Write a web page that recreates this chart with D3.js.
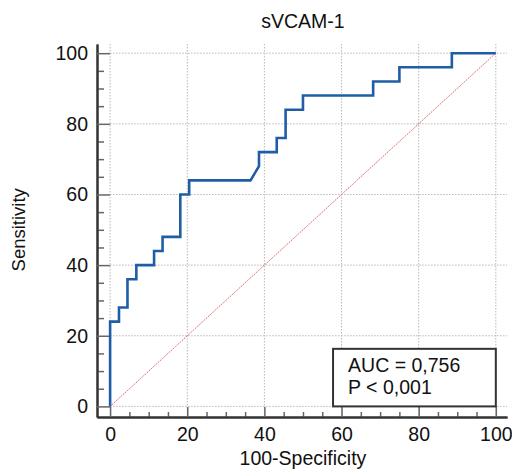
<!DOCTYPE html>
<html>
<head>
<meta charset="utf-8">
<script src="https://cdn.jsdelivr.net/npm/d3@7"></script>
<style>
  body { margin: 0; background: #fff; }
  text { font-family: "Liberation Sans", Arial, sans-serif; fill: #111; }
</style>
</head>
<body>
<svg id="roc"></svg>
<script>
// ROC curve for sVCAM-1 (MedCalc style)
// step points: x = 100-Specificity, y = Sensitivity
const fpr  = [0, 0, 2.3, 2.3, 4.5, 4.5, 6.8, 6.8, 11.4, 11.4, 13.6, 13.6, 18.2, 18.2, 20.5, 20.5,
              36.4, 38.6, 38.6, 43.2, 43.2, 45.5, 45.5, 50, 50, 68.2, 68.2, 75, 75, 88.6, 88.6, 100];
const sens = [0, 24, 24, 28, 28, 36, 36, 40, 40, 44, 44, 48, 48, 60, 60, 64,
              64, 68, 72, 72, 76, 76, 84, 84, 88, 88, 92, 92, 96, 96, 100, 100];
const majorTicks = [0, 20, 40, 60, 80, 100];
const minorTicks = [5, 10, 15, 25, 30, 35, 45, 50, 55, 65, 70, 75, 85, 90, 95];
const title = "sVCAM-1";
const xLabel = "100-Specificity";
const yLabel = "Sensitivity";
const statLines = ["AUC = 0,756", "P < 0,001"];

const W = 512, H = 471;
const fontSize = 19.5;

const svg = d3.select('#roc').attr('width', W).attr('height', H);

// scales padded a little past 0..100 so the axis lines sit off the data
const x = d3.scaleLinear().domain([-3.4, 102.9]).range([97, 507]);
const y = d3.scaleLinear().domain([-3, 102.6]).range([417, 44]);

// grid
const grid = svg.append('g').attr('stroke', '#b8b8b8').attr('stroke-width', 1).attr('stroke-dasharray', '1.5,1.5');
grid.selectAll('line.v').data(majorTicks).enter().append('line')
    .attr('x1', d => x(d)).attr('x2', d => x(d))
    .attr('y1', y.range()[1]).attr('y2', y.range()[0]);
grid.selectAll('line.h').data(majorTicks).enter().append('line')
    .attr('x1', x(0)).attr('x2', x.range()[1])
    .attr('y1', d => y(d)).attr('y2', d => y(d));

// axes (ticks point inward)
function styleAxis(g) {
    g.select('.domain').attr('stroke', '#333').attr('stroke-width', 2);
    g.selectAll('.tick line').attr('stroke', '#666').attr('stroke-width', 1.5);
    g.selectAll('.tick text').style('font-size', fontSize + 'px').attr('fill', '#111');
}

svg.append('g')
    .attr('transform', `translate(0,${y.range()[0]})`)
    .call(d3.axisBottom(x).tickValues(minorTicks).tickSize(-5).tickSizeOuter(0).tickFormat(''))
    .call(styleAxis);
svg.append('g')
    .attr('transform', `translate(0,${y.range()[0]})`)
    .call(d3.axisBottom(x).tickValues(majorTicks).tickSize(-10).tickSizeOuter(0).tickPadding(10))
    .call(styleAxis);

svg.append('g')
    .attr('transform', `translate(${x.range()[0]},0)`)
    .call(d3.axisLeft(y).tickValues(minorTicks).tickSize(-7).tickSizeOuter(0).tickFormat(''))
    .call(styleAxis);
svg.append('g')
    .attr('transform', `translate(${x.range()[0]},0)`)
    .call(d3.axisLeft(y).tickValues(majorTicks).tickSize(-13).tickSizeOuter(0).tickPadding(9))
    .call(styleAxis);

// reference diagonal
svg.append('line')
    .attr('x1', x(0)).attr('y1', y(0))
    .attr('x2', x(100)).attr('y2', y(100))
    .attr('stroke', '#d24a4a')
    .attr('stroke-width', 1)
    .attr('stroke-dasharray', '1.5,1')
    .attr('opacity', 0.85);

// ROC curve
const pts = fpr.map((f, i) => [f, sens[i]]);
svg.append('path')
    .datum(pts)
    .attr('fill', 'none')
    .attr('stroke', '#1f5ea6')
    .attr('stroke-width', 2.6)
    .attr('stroke-linejoin', 'miter')
    .attr('d', d3.line().x(d => x(d[0])).y(d => y(d[1])));

// AUC box
svg.append('rect')
    .attr('x', x(57.8)).attr('y', y(16.3))
    .attr('width', x(100) - x(57.8)).attr('height', y(0) - y(16.3))
    .attr('fill', '#fff')
    .attr('stroke', '#333')
    .attr('stroke-width', 2);

svg.selectAll('text.stat')
    .data(statLines)
    .enter().append('text')
    .attr('class', 'stat')
    .attr('x', x(57.8) + 15)
    .attr('y', (d, i) => 371.5 + i * 22.5)
    .style('font-size', fontSize + 'px')
    .text(d => d);

// titles
svg.append('text')
    .attr('x', (x(0) + x(100)) / 2)
    .attr('y', 28)
    .attr('text-anchor', 'middle')
    .style('font-size', fontSize + 'px')
    .text(title);

svg.append('text')
    .attr('x', (x(0) + x(100)) / 2)
    .attr('y', 465)
    .attr('text-anchor', 'middle')
    .style('font-size', fontSize + 'px')
    .text(xLabel);

svg.append('text')
    .attr('transform', `translate(25,${(y(0) + y(100)) / 2}) rotate(-90)`)
    .attr('text-anchor', 'middle')
    .style('font-size', '18.5px')
    .text(yLabel);
</script>
</body>
</html>
